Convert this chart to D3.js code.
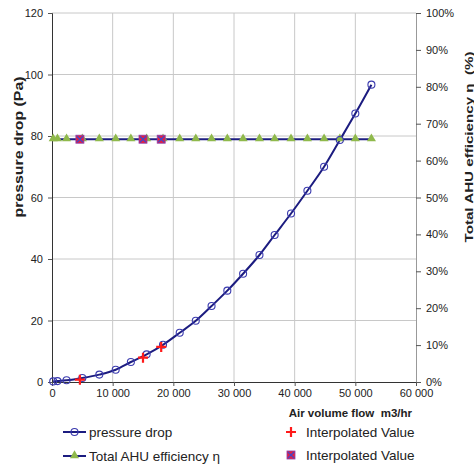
<!DOCTYPE html>
<html>
<head>
<meta charset="utf-8">
<script src="https://cdn.jsdelivr.net/npm/d3@7"></script>
<style>
  body { margin: 0; background: #fff; }
  text { font-family: Arial, "Liberation Sans", sans-serif; fill: #222; white-space: pre; }
</style>
</head>
<body>
<script>
// values
const flow = [200, 900, 2400, 5000, 7800, 10500, 13000, 15600, 18300, 21050, 23700,
  26300, 28900, 31500, 34200, 36700, 39400, 42100, 44850, 47450, 50000, 52650];
const pressure = [0.2, 0.3, 0.55, 1.3, 2.4, 4.0, 6.5, 9.0, 12.1, 16.0, 19.9,
  24.7, 29.7, 35.2, 41.3, 47.8, 54.8, 62.2, 70.0, 78.7, 87.3, 96.7];
const efficiency = flow.map(() => 65.8); // flat line in the chart
const interpFlow = [4600, 15000, 18000];
const interpPressure = [0.75, 7.9, 11.4];
const interpEff = [65.8, 65.8, 65.8];
const xTicks = [0, 10000, 20000, 30000, 40000, 50000, 60000];
const yTicks = [0, 20, 40, 60, 80, 100, 120];
const y2Ticks = [0, 10, 20, 30, 40, 50, 60, 70, 80, 90, 100];

const width = 474, height = 466;
const mLeft = 52, mRight = 416, mTop = 13, mBottom = 382;
const navy = '#1c1c80', ring = '#3a3aae', green = '#8fb94b', red = '#ff1a1a';

const svg = d3.select('body').append('svg')
  .attr('width', width)
  .attr('height', height);

const x = d3.scaleLinear().domain([0, 60000]).range([mLeft, mRight]);
const y = d3.scaleLinear().domain([0, 120]).range([mBottom, mTop]);
const y2 = d3.scaleLinear().domain([0, 100]).range([mBottom, mTop]);

const fmt = d => d3.format(',')(d).replace(/,/g, ' ');

// grid
svg.append('g').selectAll('line').data(yTicks.slice(1)).enter().append('line')
  .attr('x1', mLeft).attr('x2', mRight)
  .attr('y1', d => y(d)).attr('y2', d => y(d))
  .attr('stroke', '#c8c8c8');
svg.append('g').selectAll('line').data(xTicks.slice(1, -1)).enter().append('line')
  .attr('x1', d => x(d)).attr('x2', d => x(d))
  .attr('y1', mTop).attr('y2', mBottom)
  .attr('stroke', '#c8c8c8');

// axes
const gl = svg.append('g').attr('transform', 'translate(' + mLeft + ',0)')
  .call(d3.axisLeft(y).tickValues(yTicks).tickSize(4).tickPadding(5));
const gb = svg.append('g').attr('transform', 'translate(0,' + mBottom + ')')
  .call(d3.axisBottom(x).tickValues(xTicks).tickSize(4).tickPadding(3).tickFormat(fmt));
const gr = svg.append('g').attr('transform', 'translate(' + mRight + ',0)')
  .call(d3.axisRight(y2).tickValues(y2Ticks).tickSize(5).tickPadding(5).tickFormat(d => d + '%'));
[gl, gb, gr].forEach(g => {
  g.select('.domain').attr('stroke', '#333');
  g.selectAll('.tick line').attr('stroke', '#555');
  g.selectAll('text').attr('font-size', 11).attr('fill', '#1a1a1a')
    .attr('font-family', 'Arial, "Liberation Sans", sans-serif');
});
gr.select('.domain').attr('stroke', '#999');

// axis titles
svg.append('text')
  .attr('transform', 'translate(23,147) rotate(-90)')
  .attr('text-anchor', 'middle')
  .attr('font-size', 13).attr('font-weight', 'bold')
  .attr('textLength', 141).attr('lengthAdjust', 'spacingAndGlyphs')
  .text('pressure drop (Pa)');
svg.append('text')
  .attr('transform', 'translate(473,147) rotate(-90)')
  .attr('text-anchor', 'middle')
  .attr('font-size', 11).attr('font-weight', 'bold')
  .attr('textLength', 191).attr('lengthAdjust', 'spacingAndGlyphs')
  .text('Total AHU efficiency η  (%)');
svg.append('text')
  .attr('x', 412).attr('y', 417)
  .attr('text-anchor', 'end')
  .attr('font-size', 11.5).attr('font-weight', 'bold')
  .text('Air volume flow  m3/hr');

// series
const pts = flow.map((f, i) => ({ f: f, p: pressure[i], e: efficiency[i] }));
const ipts = interpFlow.map((f, i) => ({ f: f, p: interpPressure[i], e: interpEff[i] }));

svg.append('path').datum(pts)
  .attr('d', d3.line().x(d => x(d.f)).y(d => y2(d.e)))
  .attr('fill', 'none').attr('stroke', navy).attr('stroke-width', 2);
svg.append('path').datum(pts)
  .attr('d', d3.line().curve(d3.curveMonotoneX).x(d => x(d.f)).y(d => y(d.p)))
  .attr('fill', 'none').attr('stroke', navy).attr('stroke-width', 2);

const tri = d3.symbol().type(d3.symbolTriangle).size(36);
function triangle(g, cx, cy) {
  g.append('path').attr('d', tri())
    .attr('transform', 'translate(' + cx + ',' + (cy - 0.5) + ')')
    .attr('fill', green);
}
function ringMark(g, cx, cy) {
  g.append('circle').attr('cx', cx).attr('cy', cy).attr('r', 3.5)
    .attr('fill', 'none').attr('stroke', ring).attr('stroke-width', 1.1);
}
function plus(g, cx, cy) {
  g.append('path').attr('d', 'M' + (cx - 5) + ',' + cy + 'h10M' + cx + ',' + (cy - 5) + 'v10')
    .attr('stroke', red).attr('stroke-width', 2.2);
}
function squareX(g, cx, cy) {
  g.append('rect').attr('x', cx - 4).attr('y', cy - 4).attr('width', 8).attr('height', 8)
    .attr('fill', '#e8203c').attr('stroke', '#8a3cb0').attr('stroke-width', 0.8);
  g.append('path').attr('d', 'M' + (cx - 3) + ',' + (cy - 3) + 'l6,6M' + (cx + 3) + ',' + (cy - 3) + 'l-6,6')
    .attr('stroke', '#4646c8').attr('stroke-width', 1.4);
}

const marks = svg.append('g');
pts.forEach(d => triangle(marks, x(d.f), y2(d.e)));
pts.forEach(d => ringMark(marks, x(d.f), y(d.p)));
ipts.forEach(d => plus(marks, x(d.f), y(d.p)));
ipts.forEach(d => squareX(marks, x(d.f), y2(d.e)));

// legend
const lg = svg.append('g');
const rows = [
  { lx: 63, cy: 432, label: 'pressure drop', mark: ringMark, line: true },
  { lx: 63, cy: 456, label: 'Total AHU efficiency η', mark: triangle, line: true },
  { lx: 291, cy: 432, label: 'Interpolated Value', mark: plus, line: false },
  { lx: 291, cy: 455, label: 'Interpolated Value', mark: squareX, line: false }
];
rows.forEach(r => {
  let tx;
  if (r.line) {
    lg.append('line').attr('x1', r.lx).attr('x2', r.lx + 23)
      .attr('y1', r.cy).attr('y2', r.cy)
      .attr('stroke', navy).attr('stroke-width', 2);
    r.mark(lg, r.lx + 11.5, r.cy);
    tx = r.lx + 26;
  } else {
    r.mark(lg, r.lx, r.cy);
    tx = r.lx + 15;
  }
  lg.append('text').attr('x', tx).attr('y', r.cy + 5)
    .attr('font-size', 13.5).text(r.label);
});
</script>
</body>
</html>
